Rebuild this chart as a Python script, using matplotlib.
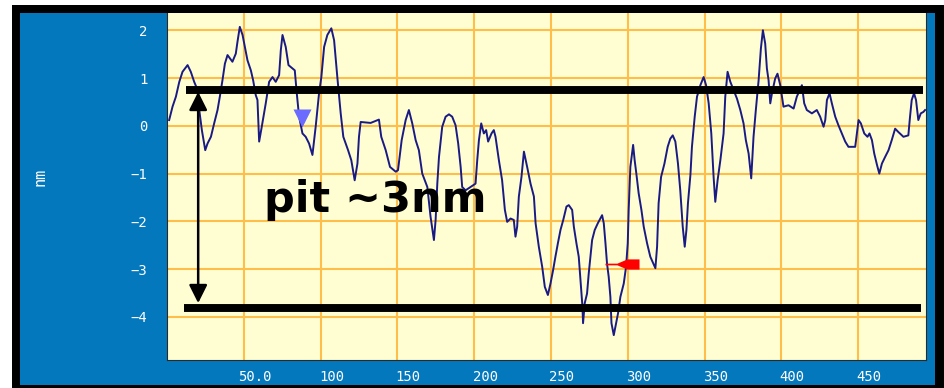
import matplotlib
matplotlib.use("Agg")
import matplotlib.pyplot as plt
from matplotlib.patches import Rectangle
from matplotlib.path import Path
from matplotlib.transforms import ScaledTranslation

W, H, DPI = 944, 388, 100

# Height profile along the scan line (position, nm)
profile_x = [
    1.4, 3.6, 5.8, 8.0, 10.1, 13.4, 15.5, 17.7, 19.9, 21.0, 22.7, 24.9, 26.4, 28.6,
    30.7, 32.9, 34.4, 36.1, 37.7, 39.4, 42.6, 44.8, 45.9, 47.4, 49.2, 50.7, 52.4,
    54.6, 56.1, 57.8, 58.9, 60.0, 61.7, 64.3, 66.5, 68.7, 70.8, 73.0, 74.1, 75.2,
    77.3, 79.1, 81.7, 83.2, 84.5, 86.0, 88.2, 90.3, 92.5, 94.7, 96.8, 99.0, 100.5,
    102.3, 104.4, 107.0, 108.8, 110.9, 113.1, 114.8, 117.9, 120.0, 122.2, 124.0,
    125.0, 126.1, 132.6, 138.0, 139.5, 142.4, 145.2, 148.9, 150.4, 152.8, 155.4,
    157.5, 159.7, 161.9, 164.0, 166.2, 169.5, 171.6, 173.8, 174.9, 176.0, 177.1,
    179.2, 181.4, 183.6, 185.7, 187.9, 189.6, 191.2, 192.2, 194.4, 197.7, 200.9,
    202.0, 203.1, 204.6, 206.3, 207.8, 209.1, 211.3, 212.8, 213.9, 216.1, 218.2,
    220.0, 221.5, 223.7, 225.8, 226.9, 228.0, 229.1, 230.8, 232.4, 234.5, 236.7,
    238.9, 240.0, 242.1, 244.3, 246.0, 248.0, 249.7, 251.4, 252.9, 254.5, 256.2,
    258.0, 260.1, 261.6, 263.8, 264.9, 266.6, 268.1, 269.2, 270.5, 270.9, 272.0,
    273.5, 274.6, 275.7, 276.8, 278.5, 280.5, 283.3, 284.4, 285.5, 286.5, 287.6,
    288.7, 289.4, 290.9, 292.0, 293.7, 295.2, 297.4, 298.9, 300.0, 300.6, 301.7,
    303.5, 304.5, 305.6, 307.1, 308.9, 310.4, 312.6, 314.7, 318.0, 319.1, 320.1,
    321.7, 323.9, 326.0, 327.7, 329.3, 331.0, 332.7, 334.2, 335.8, 337.1, 338.2,
    339.2, 340.8, 341.8, 343.6, 345.1, 347.3, 349.4, 351.0, 352.7, 354.4, 355.9,
    357.0, 358.5, 360.3, 362.4, 363.5, 365.0, 366.8, 368.9, 371.1, 373.3, 375.4,
    376.9, 378.7, 380.4, 381.9, 383.4, 385.2, 386.7, 388.0, 389.5, 390.6, 391.7,
    392.8, 393.9, 396.0, 397.5, 399.3, 400.4, 401.4, 404.7, 408.0, 410.1, 413.4,
    414.9, 416.6, 419.9, 423.1, 425.3, 427.5, 428.6, 429.7, 431.4, 432.9, 435.1,
    437.2, 439.4, 441.6, 443.7, 448.1, 450.3, 451.8, 454.0, 456.1, 457.4, 459.0,
    460.5, 462.3, 463.8, 465.5, 467.6, 469.8, 471.9, 474.1, 476.2, 479.5, 482.7,
    483.8, 484.9, 486.4, 487.7, 489.2, 490.8, 492.5, 493.6,
]
profile_nm = [
    0.12, 0.40, 0.61, 0.92, 1.13, 1.27, 1.13, 0.92, 0.75, 0.33, -0.09, -0.51, -0.37, -0.23,
    0.05, 0.33, 0.61, 0.95, 1.30, 1.48, 1.34, 1.51, 1.76, 2.07, 1.90, 1.65, 1.37,
    1.16, 0.95, 0.64, 0.54, -0.33, -0.02, 0.47, 0.92, 1.02, 0.92, 1.06, 1.58, 1.90,
    1.65, 1.27, 1.20, 1.16, 0.68, 0.19, -0.16, -0.23, -0.37, -0.61, -0.02, 0.68, 1.02,
    1.65, 1.90, 2.04, 1.79, 1.02, 0.26, -0.23, -0.51, -0.72, -1.14, -0.79,
    -0.23, 0.08, 0.06, 0.13, -0.23, -0.51, -0.86, -0.96, -0.93, -0.30, 0.12,
    0.33, 0.05, -0.30, -0.51, -1.00, -1.28, -1.90, -2.39, -1.97, -1.21, -0.65,
    -0.02, 0.19, 0.24, 0.19, 0.01, -0.37, -0.86, -1.28, -1.35, -1.28, -1.21,
    -0.72, -0.30, 0.05, -0.16, -0.09, -0.33, -0.16, -0.09, -0.23, -0.72, -1.14,
    -1.76, -2.01, -1.94, -1.97, -2.32, -2.11, -1.48, -1.07, -0.54, -0.86, -1.21,
    -1.48, -2.04, -2.53, -2.95, -3.37, -3.54, -3.30, -3.02, -2.74, -2.46, -2.18,
    -1.97, -1.69, -1.66, -1.76, -2.11, -2.46, -2.74, -3.23, -3.78, -4.13, -3.71,
    -3.51, -3.09, -2.74, -2.39, -2.18, -2.04, -1.87, -2.04, -2.46, -2.88, -3.16,
    -3.58, -4.13, -4.38, -4.20, -3.92, -3.58, -3.30, -2.95, -2.46, -1.76, -0.86,
    -0.40, -0.72, -1.00, -1.41, -1.76, -2.11, -2.46, -2.74, -2.98, -2.53, -1.62,
    -1.07, -0.79, -0.44, -0.27, -0.20, -0.33, -0.79, -1.35, -2.11, -2.53, -2.18,
    -1.62, -1.03, -0.44, 0.19, 0.61, 0.85, 1.02, 0.85, 0.47, -0.16, -1.07,
    -1.59, -1.14, -0.72, -0.16, 0.61, 1.13, 0.92, 0.75, 0.57, 0.33, 0.05,
    -0.30, -0.58, -1.10, -0.23, 0.33, 0.95, 1.62, 2.00, 1.72, 1.20, 0.95,
    0.47, 0.68, 0.99, 1.09, 0.85, 0.61, 0.40, 0.43, 0.36, 0.61, 0.85,
    0.47, 0.33, 0.26, 0.33, 0.19, -0.02, 0.12, 0.54, 0.68, 0.47, 0.19,
    0.01, -0.16, -0.33, -0.44, -0.44, 0.12, 0.05, -0.16, -0.23, -0.16, -0.30,
    -0.58, -0.82, -1.00, -0.79, -0.65, -0.51, -0.30, -0.06, -0.13, -0.23, -0.20,
    0.19, 0.54, 0.68, 0.54, 0.12, 0.26, 0.29, 0.33,
]

x_ticks = [50, 100, 150, 200, 250, 300, 350, 400, 450]
x_tick_labels = ["50.0", "100", "150", "200", "250", "300", "350", "400", "450"]
y_ticks = [2, 1, 0, -1, -2, -3, -4]
y_tick_labels = ["2", "1", "0", "\u22121", "\u22122", "\u22123", "\u22124"]
y_unit = "nm"

# Reference levels: surface rim and pit floor
rim_level, rim_from, rim_to = 0.745, 12.3, 492.1
floor_level, floor_from, floor_to = -3.81, 11.2, 490.8
depth_x, depth_top, depth_bottom = 20.3, 0.71, -3.71
depth_label, depth_label_x, depth_label_y = "pit ~3nm", 63.0, -1.80

# Cursor positions
cursor_a_x, cursor_a_y = 88.0, 0.16
cursor_b_x, cursor_b_y = 296.5, -2.89

PANEL_BLUE = "#0478bc"
PLOT_FACE = "#fffed2"
GRID_ORANGE = "#ffbe4a"
TRACE = "#1a1a84"


def fx(px):
    return px / W


def fy(py):
    return 1 - py / H


fig = plt.figure(figsize=(W / DPI, H / DPI), dpi=DPI, facecolor="white")

# Frame and instrument panel, kept behind the axes
fig.patches.append(Rectangle((fx(12), fy(388)), (944 - 12) / W, (388 - 5) / H,
                             transform=fig.transFigure, facecolor="black",
                             edgecolor="none", zorder=-10))
fig.patches.append(Rectangle((fx(20), fy(385)), (935 - 20) / W, (385 - 13) / H,
                             transform=fig.transFigure, facecolor=PANEL_BLUE,
                             edgecolor="none", zorder=-9))

ax = fig.add_axes([fx(167), fy(360), (926 - 167) / W, (360 - 13) / H])
ax.set_facecolor(PLOT_FACE)
ax.set_xlim(0, 494.2)
ax.set_ylim(-4.9, 2.36)

ax.set_xticks(x_ticks)
ax.set_xticklabels(x_tick_labels)
ax.set_yticks(y_ticks)
ax.set_yticklabels(y_tick_labels)
ax.tick_params(axis="both", length=0, colors="white", labelsize=10)
ax.tick_params(axis="x", pad=7)
ax.tick_params(axis="y", pad=14)
for lab in ax.get_xticklabels() + ax.get_yticklabels():
    lab.set_fontfamily("DejaVu Sans Mono")
for lab in ax.get_xticklabels():
    lab.set_transform(lab.get_transform() + ScaledTranslation(11 / DPI, 0, fig.dpi_scale_trans))

ax.grid(True, color=GRID_ORANGE, linewidth=1.5)
ax.set_axisbelow(True)
for side in ("left", "bottom", "right"):
    ax.spines[side].set_color("#2a2a2a")
    ax.spines[side].set_linewidth(0.8)
ax.spines["top"].set_visible(False)

fig.text(fx(40), fy(177), y_unit, rotation=90, color="white", fontsize=11,
         family="DejaVu Sans Mono", ha="center", va="center")

# Profile trace
ax.plot(profile_x, profile_nm, color=TRACE, linewidth=1.4, zorder=3)

# Cursors
ax.plot([cursor_a_x], [cursor_a_y], marker="v", markersize=12.5,
        color="#6b6bff", markeredgecolor="none", zorder=4)
flag = Path([(-1, -0.05), (-0.3, -0.05), (0.3, -0.3), (1, -0.3), (1, 0.3),
             (0.3, 0.3), (-0.3, 0.05), (-1, 0.05), (-1, -0.05)], closed=True)
ax.plot([cursor_b_x], [cursor_b_y], marker=flag, markersize=24.5,
        color="#ff0000", markeredgecolor="none", zorder=4)

# Rim and floor reference bars
ax.hlines(rim_level, rim_from, rim_to, color="black", linewidth=5.7,
          capstyle="butt", zorder=5)
ax.hlines(floor_level, floor_from, floor_to, color="black", linewidth=5.7,
          capstyle="butt", zorder=5)

# Depth arrow and label
ax.annotate("", xy=(depth_x, depth_top), xytext=(depth_x, depth_bottom),
            arrowprops=dict(arrowstyle="<|-|>,head_length=1.1,head_width=0.55",
                            color="black", lw=1.8, mutation_scale=10,
                            shrinkA=0, shrinkB=0), zorder=6)
ax.text(depth_label_x, depth_label_y, depth_label, fontsize=31,
        fontweight="bold", family="DejaVu Sans", color="black",
        ha="left", va="baseline", zorder=6)

fig.savefig("out.png", dpi=DPI, facecolor="white")
